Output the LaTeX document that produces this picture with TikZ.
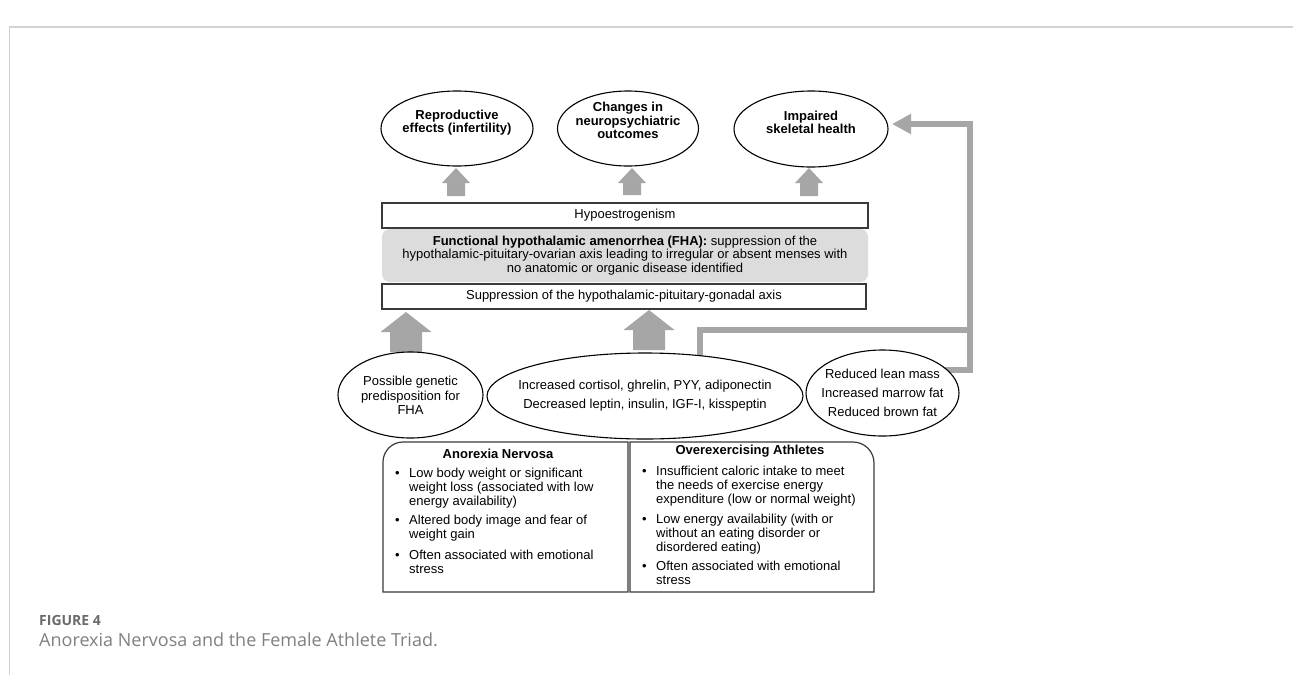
\documentclass[tikz,border=0pt]{standalone}
\usepackage{fontspec}
\setmainfont{Liberation Sans}
\newfontfamily\capfont{Open Sans}
\usetikzlibrary{arrows.meta,shapes.geometric}
\definecolor{arrgray}{HTML}{A6A6A6}
\definecolor{boxline}{HTML}{3A3A3A}
\definecolor{fhagray}{HTML}{DCDCDC}
\definecolor{framegray}{HTML}{D2D2D2}
\definecolor{capgray}{HTML}{6A6A6A}
\newcommand\blockup[6]{% cx, ytip, ybase, ybottom, headhalf, shafthalf
  \fill[arrgray] (#1,#2) -- (#1+#5,#3) -- (#1+#6,#3) -- (#1+#6,#4) -- (#1-#6,#4) -- (#1-#6,#3) -- (#1-#5,#3) -- cycle;}
\begin{document}
\begin{tikzpicture}[x=1pt,y=-1pt,
  ell/.style={ellipse, draw=black, line width=1.1pt, fill=white, inner sep=0pt},
  bx/.style={draw=boxline, line width=1.2pt, fill=white, inner sep=0pt},
  txt/.style={font=\fontsize{13}{14.5}\selectfont, inner sep=0pt, align=center},
  ttl/.style={font=\fontsize{13}{13.6}\selectfont\bfseries, inner sep=0pt, align=center},
  ln/.style={font=\fontsize{13}{14.5}\selectfont, inner sep=0pt, anchor=base west},
  fb/.style={draw=arrgray, line width=6pt, line join=miter}]
\useasboundingbox (0,0) rectangle (1293,675);
\fill[white] (0,0) rectangle (1293,675);
% frame
\draw[framegray, line width=2pt] (9,27) -- (1293,27);
\draw[framegray, line width=1pt] (9.5,27) -- (9.5,675);

% feedback connectors (drawn below ellipses)
\coordinate (fbA) at (700,362);
\coordinate (fbB) at (940,370);
\coordinate (fbTip) at (892,124);
\draw[fb] (fbA) -- (700,330) -- (970,330);
\draw[fb, -{Triangle[width=19pt,length=19pt]}] (fbB) -- (970,370) -- (970,124) -- (fbTip);

% top ellipses
\node[ell, minimum width=152pt, minimum height=75pt] (rep) at (457,128.5) {};
\node[ttl] (repT) at (457,122.5) {Reproductive\\effects (infertility)};
\node[ell, minimum width=141pt, minimum height=75pt] (neu) at (628,128.5) {};
\node[ttl] (neuT) at (628,120.5) {Changes in\\neuropsychiatric\\outcomes};
\node[ell, minimum width=154pt, minimum height=76pt] (ske) at (811,129) {};
\node[ttl] (skeT) at (811,122.5) {Impaired\\skeletal health};

% small up arrows
\blockup{456}{168}{183}{196}{14}{9}
\blockup{632}{168}{183}{195}{14}{9}
\blockup{809}{168}{183}{196}{14}{9}

% central boxes
\node[bx, minimum width=486pt, minimum height=25pt, txt] (hypo) at (625,215.5) {Hypoestrogenism};
\node[fill=fhagray, rounded corners=8pt, minimum width=486pt, minimum height=53pt, inner sep=0pt, align=center, font=\fontsize{13}{13.8}\selectfont] (fha) at (625,255.5)
  {\textbf{Functional hypothalamic amenorrhea (FHA):} suppression of the\\hypothalamic-pituitary-ovarian axis leading to irregular or absent menses with\\no anatomic or organic disease identified};
\node[bx, minimum width=484pt, minimum height=25pt, txt] (supp) at (624,296.5) {Suppression of the hypothalamic-pituitary-gonadal axis};

% big up arrows
\blockup{406}{312}{332}{352}{25.5}{16}
\blockup{649}{310}{330}{350}{25.5}{16}

% bottom ellipses
\node[ell, minimum width=145pt, minimum height=86pt] (gen) at (410.5,395) {};
\node[txt] (genT) at (410.5,395.5) {Possible genetic\\predisposition for\\FHA};
\node[ell, minimum width=316pt, minimum height=86pt] (hor) at (645,396) {};
\node[txt, font=\fontsize{13}{19}\selectfont] (horT) at (645,396) {Increased cortisol, ghrelin, PYY, adiponectin\\Decreased leptin, insulin, IGF-I, kisspeptin};
\node[ell, minimum width=153pt, minimum height=86pt] (lean) at (882.5,393) {};
\node[txt, font=\fontsize{13}{19}\selectfont] (leanT) at (882.5,392.5) {Reduced lean mass\\Increased marrow fat\\Reduced brown fat};

% bottom boxes
\draw[draw=boxline, line width=1.2pt, fill=white] (383,592) -- (383,462) .. controls (383,451) and (392,442) .. (403,442) -- (628,442) -- (628,592) -- cycle;
\draw[draw=boxline, line width=1.2pt, fill=white] (630,592) -- (630,442) -- (853,442) .. controls (864.6,442) and (874,451.4) .. (874,463) -- (874,592) -- cycle;

\node[ttl] (anT) at (498,454) {Anorexia Nervosa};
\node[ln] (a1b) at (395,477.5) {•};
\node[ln] (a11) at (409,477.5) {Low body weight or significant};
\node[ln] (a12) at (409,491.5) {weight loss (associated with low};
\node[ln] (a13) at (409,505.5) {energy availability)};
\node[ln] (a2b) at (395,524.5) {•};
\node[ln] (a21) at (409,524.5) {Altered body image and fear of};
\node[ln] (a22) at (409,538.5) {weight gain};
\node[ln] (a3b) at (395,559.5) {•};
\node[ln] (a31) at (409,559.5) {Often associated with emotional};
\node[ln] (a32) at (409,573) {stress};

\node[ttl] (oeT) at (750,451) {Overexercising Athletes};
\node[ln] (o1b) at (642,475.5) {•};
\node[ln] (o11) at (656,475.5) {Insufficient caloric intake to meet};
\node[ln] (o12) at (656,489.5) {the needs of exercise energy};
\node[ln] (o13) at (656,503.5) {expenditure (low or normal weight)};
\node[ln] (o2b) at (642,523.5) {•};
\node[ln] (o21) at (656,523.5) {Low energy availability (with or};
\node[ln] (o22) at (656,537.5) {without an eating disorder or};
\node[ln] (o23) at (656,551.5) {disordered eating)};
\node[ln] (o3b) at (642,570.5) {•};
\node[ln] (o31) at (656,570.5) {Often associated with emotional};
\node[ln] (o32) at (656,584) {stress};

% caption
\node[anchor=base west, inner sep=0pt, font=\capfont\bfseries\fontsize{14}{16}\selectfont, text=capgray] (fig) at (39,625) {FIGURE 4};
\node[anchor=base west, inner sep=0pt, font=\capfont\fontsize{18}{21}\selectfont, text=capgray!85] (cap) at (39,646) {Anorexia Nervosa and the Female Athlete Triad.};
\end{tikzpicture}
\end{document}
